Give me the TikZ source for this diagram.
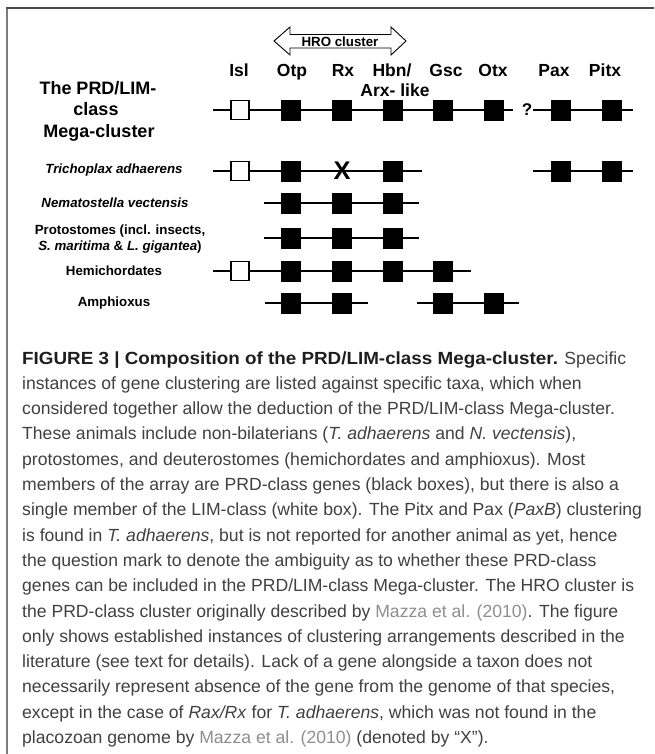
\documentclass[tikz,border=0pt]{standalone}
\usepackage{fontspec}
\setmainfont{Liberation Sans}

\definecolor{frametop}{HTML}{4A4A4A}
\definecolor{frameside}{HTML}{7C7C7C}
\definecolor{captext}{HTML}{404040}
\definecolor{captitle}{HTML}{1E1E1E}
\definecolor{citegray}{HTML}{8E8E8E}

\newcommand\mazzacite{{\color{citegray}Mazza et al. (2010)}}
\newcommand\figtitle[1]{{\color{captitle}\bfseries\addfontfeatures{FakeStretch=1.07}#1}}

\tikzset{
  gene/.style={draw=black, fill=black, line width=0.6pt, minimum width=19pt,
    minimum height=20pt, inner sep=0pt, outer sep=0pt},
  limgene/.style={gene, fill=white, line width=1.2pt, minimum width=18pt, minimum height=19pt},
  chrom/.style={draw=black, line width=2pt},
  genename/.style={font=\bfseries\fontsize{17.5}{20}\selectfont, inner sep=0pt, anchor=base},
  megalabel/.style={font=\bfseries\fontsize{18}{21}\selectfont, inner sep=0pt, anchor=base},
  taxon/.style={font=\bfseries\fontsize{13.3}{16}\selectfont, inner sep=0pt, anchor=base},
  taxonit/.style={taxon, font=\bfseries\itshape\fontsize{13.3}{16}\selectfont},
}

% gene columns and row heights
\def\xIsl{240}  \def\xOtp{291} \def\xRx{342}  \def\xHbn{392.5}
\def\xGsc{443}  \def\xOtx{493.5} \def\xPax{560.5} \def\xPitx{611.5}
\def\yM{110} \def\yT{171} \def\yN{203} \def\yP{238} \def\yH{271} \def\yA{303}

\begin{document}
\begin{tikzpicture}[x=1pt,y=-1pt]
\useasboundingbox (0,0) rectangle (654,754);

% frame
\draw[frameside, line width=1.6pt] (7,754) -- (7,8);
\draw[frametop, line width=1.6pt] (6.2,8) -- (654,8);

% HRO cluster double arrow
\draw[line width=0.9pt, fill=white, line join=miter]
  (274,41) -- (290,27) -- (290,34.5) -- (391,34.5) -- (391,27) -- (406,41)
  -- (391,55) -- (391,48) -- (290,48) -- (290,55) -- cycle;
\node[font=\bfseries\fontsize{13.3}{15}\selectfont, inner sep=0pt, anchor=base] (hro) at (340,46.5) {HRO cluster};

% gene names
\node[genename] (n-isl)  at (239,76.5) {Isl};
\node[genename] (n-otp)  at (292,76.5) {Otp};
\node[genename] (n-rx)   at (343,76.5) {Rx};
\node[genename] (n-hbn)  at (392,76.5) {Hbn/};
\node[genename] (n-arx)  at (395,97) {Arx- like};
\node[genename] (n-gsc)  at (446,76.5) {Gsc};
\node[genename] (n-otx)  at (493,76.5) {Otx};
\node[genename] (n-pax)  at (554,76.5) {Pax};
\node[genename] (n-pitx) at (605,76.5) {Pitx};

% row labels
\node[megalabel] (mega1) at (98,94.3) {The PRD/LIM-};
\node[megalabel] (mega2) at (96,115.9) {class};
\node[megalabel] (mega3) at (99,137.5) {Mega-cluster};
\node[taxonit] (tax-t) at (114,174) {Trichoplax adhaerens};
\node[taxonit] (tax-n) at (115,207.5) {Nematostella vectensis};
\node[taxon] (tax-p1) at (120,234) {Protostomes (incl. insects,};
\node[taxon] (tax-p2) at (120,250.5) {\textit{S. maritima} \& \textit{L. gigantea})};
\node[taxon] (tax-h) at (114,275) {Hemichordates};
\node[taxon] (tax-a) at (114,306.5) {Amphioxus};

% the PRD/LIM-class Mega-cluster
\coordinate (m-s) at (213,\yM);
\coordinate (m-q1) at (513,\yM);
\coordinate (m-e) at (633,\yM);
\node[limgene] (m-isl) at (\xIsl,\yM) {};
\node[gene] (m-otp) at (\xOtp,\yM) {};
\node[gene] (m-rx) at (\xRx,\yM) {};
\node[gene] (m-hbn) at (\xHbn,\yM) {};
\node[gene] (m-gsc) at (\xGsc,\yM) {};
\node[gene] (m-otx) at (\xOtx,\yM) {};
\node[font=\bfseries\fontsize{17}{20}\selectfont, inner sep=1pt] (m-q) at (527,\yM) {?};
\node[gene] (m-pax) at (\xPax,\yM) {};
\node[gene] (m-pitx) at (\xPitx,\yM) {};
\draw[chrom] (m-s) -- (m-isl) -- (m-otp) -- (m-rx) -- (m-hbn) -- (m-gsc) -- (m-otx) -- (m-q1);
\draw[chrom] (m-q) -- (m-pax) -- (m-pitx) -- (m-e);

% Trichoplax adhaerens
\coordinate (t-s) at (213,\yT);
\coordinate (t-e) at (422,\yT);
\coordinate (t-s2) at (533,\yT);
\coordinate (t-e2) at (633,\yT);
\node[limgene] (t-isl) at (\xIsl,\yT) {};
\node[gene] (t-otp) at (\xOtp,\yT) {};
\node[gene] (t-hbn) at (\xHbn,\yT) {};
\node[gene] (t-pax) at (\xPax,\yT) {};
\node[gene] (t-pitx) at (\xPitx,\yT) {};
\draw[chrom] (t-s) -- (t-isl) -- (t-otp) -- (t-hbn) -- (t-e);
\draw[chrom] (t-s2) -- (t-pax) -- (t-pitx) -- (t-e2);
\node[font=\bfseries\fontsize{25.5}{28}\selectfont, inner sep=0pt] (t-rx) at (\xRx,\yT) {X};

% Nematostella vectensis
\coordinate (n-s) at (264,\yN);
\coordinate (n-e) at (419,\yN);
\node[gene] (nv-otp) at (\xOtp,\yN) {};
\node[gene] (nv-rx) at (\xRx,\yN) {};
\node[gene] (nv-hbn) at (\xHbn,\yN) {};
\draw[chrom] (n-s) -- (nv-otp) -- (nv-rx) -- (nv-hbn) -- (n-e);

% Protostomes
\coordinate (p-s) at (264,\yP);
\coordinate (p-e) at (419,\yP);
\node[gene] (p-otp) at (\xOtp,\yP) {};
\node[gene] (p-rx) at (\xRx,\yP) {};
\node[gene] (p-hbn) at (\xHbn,\yP) {};
\draw[chrom] (p-s) -- (p-otp) -- (p-rx) -- (p-hbn) -- (p-e);

% Hemichordates
\coordinate (h-s) at (213,\yH);
\coordinate (h-e) at (471,\yH);
\node[limgene] (h-isl) at (\xIsl,\yH) {};
\node[gene] (h-otp) at (\xOtp,\yH) {};
\node[gene] (h-rx) at (\xRx,\yH) {};
\node[gene] (h-hbn) at (\xHbn,\yH) {};
\node[gene] (h-gsc) at (\xGsc,\yH) {};
\draw[chrom] (h-s) -- (h-isl) -- (h-otp) -- (h-rx) -- (h-hbn) -- (h-gsc) -- (h-e);

% Amphioxus
\coordinate (a-s) at (265,\yA);
\coordinate (a-e) at (368,\yA);
\coordinate (a-s2) at (417,\yA);
\coordinate (a-e2) at (519,\yA);
\node[gene] (a-otp) at (\xOtp,\yA) {};
\node[gene] (a-rx) at (\xRx,\yA) {};
\node[gene] (a-gsc) at (\xGsc,\yA) {};
\node[gene] (a-otx) at (\xOtx,\yA) {};
\draw[chrom] (a-s) -- (a-otp) -- (a-rx) -- (a-e);
\draw[chrom] (a-s2) -- (a-gsc) -- (a-otx) -- (a-e2);

% caption
\node[anchor=base west, inner sep=0pt, text=captext, font=\fontsize{17.6}{25.3}\selectfont]
  (caption) at (22,364) {\vtop{\baselineskip=25.3pt
  \hbox{\figtitle{FIGURE 3 | Composition of the PRD/LIM-class Mega-cluster.} Specific}
  \hbox{instances of gene clustering are listed against specific taxa, which when}
  \hbox{considered together allow the deduction of the PRD/LIM-class Mega-cluster.}
  \hbox{These animals include non-bilaterians (\textit{T. adhaerens} and \textit{N. vectensis}),}
  \hbox{protostomes, and deuterostomes (hemichordates and amphioxus). Most}
  \hbox{members of the array are PRD-class genes (black boxes), but there is also a}
  \hbox{single member of the LIM-class (white box). The Pitx and Pax (\textit{PaxB}) clustering}
  \hbox{is found in \textit{T. adhaerens}, but is not reported for another animal as yet, hence}
  \hbox{the question mark to denote the ambiguity as to whether these PRD-class}
  \hbox{genes can be included in the PRD/LIM-class Mega-cluster. The HRO cluster is}
  \hbox{the PRD-class cluster originally described by \mazzacite. The figure}
  \hbox{only shows established instances of clustering arrangements described in the}
  \hbox{literature (see text for details). Lack of a gene alongside a taxon does not}
  \hbox{necessarily represent absence of the gene from the genome of that species,}
  \hbox{except in the case of \textit{Rax/Rx} for \textit{T. adhaerens}, which was not found in the}
  \hbox{placozoan genome by \mazzacite\ (denoted by “X”).}}};
\end{tikzpicture}
\end{document}
